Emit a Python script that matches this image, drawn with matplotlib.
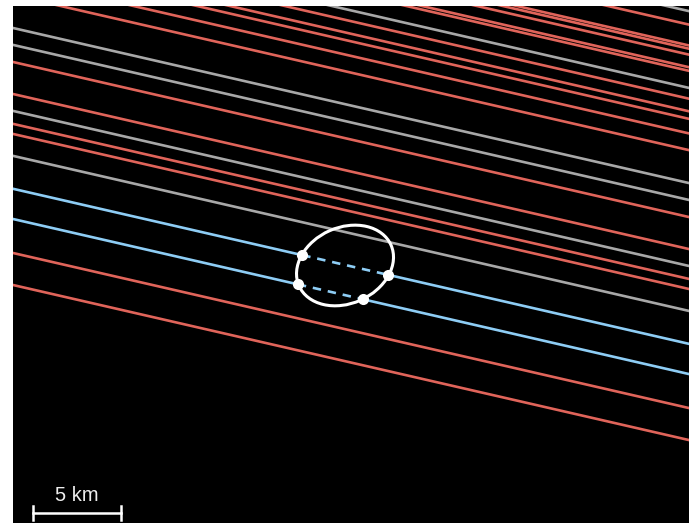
import matplotlib.pyplot as plt
import numpy as np
from matplotlib.patches import Ellipse

# chord offsets (km, perpendicular to track, + = north-east of fitted centre)
neg_offsets = [10.80, 11.73, 12.54, 12.96, 13.66, 15.21, 15.41, 16.11, 16.44,
               16.62, 17.78, 7.08, 5.30, 3.64, 3.08, -3.54, -5.32]
nodata_offsets = [14.26, 18.53, 8.97, 8.03, 4.36, 1.86]
pos_offsets = [0.03, -1.65]
# ingress / egress along the chord (km from centre projection)
pos_ingress = [-2.51, -2.38]
pos_egress = [2.52, 1.43]

# fitted limb
ELL_A, ELL_B, ELL_ANG = 2.87, 2.17, 24.0   # semi-axes (km), tilt (deg)
TRACK_ANG = -12.92                          # shadow direction (deg)
CENTER = np.array([18.94, 14.69])

COL_NEG, COL_ND, COL_POS = "#e0645a", "#a8a8a8", "#8ecdf5"
LW = 1.9

d = np.array([np.cos(np.radians(TRACK_ANG)), np.sin(np.radians(TRACK_ANG))])
n = np.array([-d[1], d[0]])


def chord_xy(t, s0, s1):
    p0 = CENTER + t * n + s0 * d
    p1 = CENTER + t * n + s1 * d
    return [p0[0], p1[0]], [p0[1], p1[1]]


fig = plt.figure(figsize=(6.98, 5.24), dpi=100)
ax = fig.add_axes([13 / 698, 1 / 524, 676 / 698, 517 / 524])
ax.set_facecolor("black")
ax.set_xlim(0, 676 / 17.53)
ax.set_ylim(0, 517 / 17.53)
ax.set_xticks([])
ax.set_yticks([])
for s in ax.spines.values():
    s.set_visible(False)

for t in neg_offsets:
    ax.plot(*chord_xy(t, -60, 60), color=COL_NEG, lw=LW, solid_capstyle="butt", zorder=2)
for t in nodata_offsets:
    ax.plot(*chord_xy(t, -60, 60), color=COL_ND, lw=LW, solid_capstyle="butt", zorder=2)

for t, s_in, s_out in zip(pos_offsets, pos_ingress, pos_egress):
    ax.plot(*chord_xy(t, -60, s_in), color=COL_POS, lw=LW, zorder=3)
    ax.plot(*chord_xy(t, s_out, 60), color=COL_POS, lw=LW, zorder=3)
    ax.plot(*chord_xy(t, s_in, s_out), color=COL_POS, lw=LW, ls=(0, (3.2, 2.6)), zorder=3)

ax.add_patch(Ellipse(CENTER, 2 * ELL_A, 2 * ELL_B, angle=ELL_ANG,
                     fill=False, edgecolor="white", lw=2.2, zorder=4))

for t, s_in, s_out in zip(pos_offsets, pos_ingress, pos_egress):
    xs, ys = chord_xy(t, s_in, s_out)
    ax.plot(xs, ys, ls="none", marker="o", ms=8, mfc="white", mec="white",
            mew=0, zorder=5)

# scale bar
x0, yb, L = 1.16, 0.59, 5.0
ax.plot([x0, x0 + L], [yb, yb], color="white", lw=1.8, zorder=6)
ax.plot([x0, x0], [yb - 0.4, yb + 0.4], color="white", lw=1.8, zorder=6)
ax.plot([x0 + L, x0 + L], [yb - 0.4, yb + 0.4], color="white", lw=1.8, zorder=6)
ax.text(x0 + L / 2, 1.56, "5 km", color="#eeeeee", fontsize=14.5,
        family="Liberation Sans", ha="center", va="center", zorder=6)

fig.savefig("out.png", dpi=100, facecolor="white")
